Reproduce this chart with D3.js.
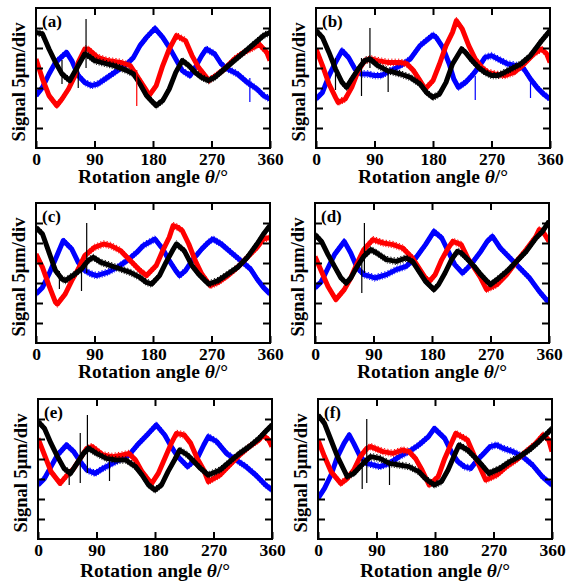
<!DOCTYPE html>
<html>
<head>
<meta charset="utf-8">
<script src="https://cdn.jsdelivr.net/npm/d3@7"></script>
<style>
html,body{margin:0;padding:0;background:#fff;}
svg{display:block;}
svg text{font-family:"Liberation Serif","Times New Roman",serif !important;font-weight:bold;fill:#000;}
</style>
</head>
<body>
<svg id="chart" width="573" height="582"></svg>
<script>
// ---- data (signal in divisions of 5 µm) ----
const panelLabels = ["(a)", "(b)", "(c)", "(d)", "(e)", "(f)"];
const xTickLabels = [0, 90, 180, 270, 360];
const yTickValues = [1, 2, 3, 4, 5, 6];
const seriesColors = {red: "#ff0000", blue: "#0000ff", black: "#000000"};

const redA = [[0,4.45],[10,3.45],[20,2.62],[32,2.12],[40,2.45],[50,2.95],[60,3.62],[65,4.28],[75,4.95],[80,4.95],[95,4.53],[110,4.37],[130,4.28],[145,4.12],[150,3.87],[160,3.37],[170,2.87],[174,2.62],[185,3.12],[195,4.12],[205,4.95],[216,5.62],[230,5.37],[240,4.62],[250,4.03],[260,3.62],[266,3.37],[280,3.70],[290,3.95],[305,4.45],[320,4.78],[335,5.03],[343,5.20],[355,4.78],[360,4.37]];
const blueA = [[0,2.62],[10,3.03],[20,3.70],[30,4.28],[47,4.78],[55,4.37],[65,3.62],[75,3.28],[85,3.12],[95,3.20],[110,3.53],[125,3.87],[140,4.20],[150,4.53],[160,5.12],[170,5.53],[183,5.98],[195,5.53],[205,5.03],[215,4.45],[225,3.87],[237,3.62],[245,4.03],[255,4.62],[262,4.95],[275,4.70],[285,4.20],[295,3.95],[310,3.70],[325,3.28],[340,2.95],[350,2.62],[360,2.45]];
const blackA = [[0,5.78],[10,5.70],[20,4.95],[30,4.28],[40,3.70],[52,3.37],[65,4.12],[75,4.70],[80,4.62],[90,4.37],[100,4.28],[120,4.12],[140,3.87],[150,3.70],[160,3.20],[170,2.62],[180,2.28],[185,2.12],[195,2.37],[205,2.95],[215,3.78],[225,4.37],[235,4.12],[245,3.78],[255,3.53],[265,3.37],[275,3.53],[290,3.95],[305,4.37],[320,4.78],[335,5.20],[350,5.62],[360,5.78]];

const redB = [[0,4.95],[10,4.12],[20,3.20],[30,2.53],[34,2.28],[45,2.45],[55,3.03],[65,3.87],[75,4.37],[85,4.45],[95,4.37],[110,4.28],[130,4.28],[140,4.20],[150,3.87],[160,3.37],[168,2.95],[180,3.37],[190,4.20],[200,5.12],[210,5.78],[216,6.37],[225,5.95],[235,5.12],[245,4.45],[255,4.03],[265,3.78],[275,3.70],[290,3.62],[305,3.78],[320,4.20],[335,4.70],[347,4.95],[355,4.70],[360,4.28]];
const blueB = [[0,2.45],[10,2.78],[20,3.62],[30,4.28],[40,4.87],[50,4.53],[60,3.95],[70,3.70],[80,3.70],[90,3.62],[100,3.62],[115,3.87],[130,4.12],[145,4.45],[160,5.12],[180,5.65],[185,5.53],[195,5.03],[205,4.20],[212,3.45],[219,3.03],[230,3.28],[240,3.62],[250,4.03],[260,4.53],[270,4.62],[280,4.45],[295,4.20],[310,4.12],[320,3.95],[330,3.45],[340,3.03],[350,2.70],[360,2.45]];
const blackB = [[0,5.87],[10,5.53],[20,4.78],[30,3.95],[40,3.28],[47,3.03],[55,3.45],[65,3.95],[75,4.37],[83,4.45],[95,4.12],[110,3.87],[130,3.70],[145,3.53],[160,3.20],[170,2.78],[180,2.53],[190,2.70],[200,3.28],[210,4.20],[224,4.95],[230,4.78],[240,4.37],[250,4.03],[260,3.78],[270,3.62],[280,3.62],[290,3.78],[300,3.95],[315,4.20],[330,4.62],[345,5.28],[360,5.87]];

const redC = [[0,4.45],[10,3.78],[20,2.87],[30,2.03],[33,1.95],[45,2.45],[55,3.12],[65,3.70],[75,4.37],[90,4.78],[104,4.95],[115,4.87],[130,4.62],[145,4.12],[160,3.62],[170,3.37],[185,3.87],[195,4.62],[205,5.28],[211,5.87],[218,5.78],[225,5.62],[235,4.95],[245,4.12],[255,3.45],[268,2.87],[280,3.03],[295,3.37],[310,3.78],[325,4.28],[340,4.78],[350,5.20],[360,5.28]];
const blueC = [[0,2.45],[10,2.78],[20,3.45],[30,4.20],[42,5.12],[55,4.70],[65,4.03],[75,3.62],[85,3.45],[93,3.37],[110,3.53],[125,3.78],[140,4.12],[155,4.53],[165,4.87],[183,5.20],[195,4.70],[205,4.12],[215,3.62],[221,3.37],[230,3.62],[240,4.12],[255,4.70],[265,5.03],[272,5.20],[285,4.95],[300,4.53],[315,4.12],[330,3.70],[340,3.20],[350,2.78],[360,2.45]];
const blackC = [[0,5.78],[10,5.45],[20,4.53],[30,3.62],[40,3.20],[45,3.12],[60,3.45],[70,3.70],[80,4.12],[88,4.28],[100,4.03],[115,3.87],[130,3.70],[145,3.53],[160,3.28],[170,3.03],[178,2.95],[190,3.37],[200,4.03],[210,4.62],[216,4.95],[228,4.62],[240,3.87],[250,3.45],[260,3.12],[266,2.95],[280,3.12],[295,3.45],[310,3.78],[325,4.28],[340,4.95],[350,5.45],[360,5.87]];

const redD = [[0,4.33],[10,3.58],[20,2.83],[32,2.17],[45,2.67],[55,3.25],[65,4.00],[75,4.67],[89,5.17],[105,5.00],[120,4.92],[135,4.75],[150,4.25],[160,3.75],[170,3.25],[176,3.08],[185,3.42],[195,4.17],[205,4.75],[212,5.08],[225,4.92],[235,4.25],[245,3.75],[255,3.25],[264,2.67],[280,2.92],[295,3.42],[310,4.08],[325,4.67],[340,5.33],[345,5.67],[352,5.50],[360,5.08]];
const blueD = [[0,2.75],[10,3.08],[20,3.75],[30,4.42],[45,5.08],[55,4.50],[65,3.75],[75,3.42],[85,3.33],[92,3.25],[110,3.42],[125,3.67],[140,3.83],[155,4.25],[170,4.92],[183,5.58],[195,5.25],[205,4.58],[215,3.92],[227,3.50],[240,3.92],[255,4.58],[265,5.08],[273,5.33],[285,4.75],[300,4.25],[315,3.75],[330,3.25],[345,2.58],[360,2.00]];
const blackD = [[0,5.42],[10,5.08],[20,4.42],[30,3.83],[40,3.25],[48,3.00],[55,3.25],[65,3.83],[75,4.33],[86,4.67],[95,4.50],[110,4.17],[125,4.08],[140,4.25],[150,4.08],[160,3.58],[170,3.08],[183,2.67],[190,2.92],[200,3.50],[210,4.17],[219,4.58],[225,4.50],[235,4.17],[245,3.83],[255,3.42],[265,3.08],[270,2.92],[280,3.17],[295,3.58],[310,4.08],[325,4.58],[340,5.25],[350,5.58],[360,6.08]];

const redE = [[0,5.03],[10,4.20],[20,3.37],[34,2.78],[45,3.20],[55,3.53],[65,4.03],[75,4.53],[83,4.62],[100,4.20],[115,4.12],[130,4.20],[140,4.28],[150,3.95],[160,3.37],[170,2.95],[175,2.78],[185,3.28],[195,4.03],[205,4.78],[213,5.28],[225,5.20],[235,4.78],[245,4.03],[255,3.45],[262,2.87],[280,3.20],[295,3.70],[310,4.20],[325,4.62],[340,4.95],[346,5.20],[355,4.95],[360,4.62]];
const blueE = [[0,2.70],[10,3.03],[20,3.62],[30,4.20],[44,4.70],[55,4.37],[65,3.87],[75,3.45],[88,3.28],[100,3.53],[115,3.78],[130,4.03],[140,4.20],[155,4.78],[170,5.28],[182,5.70],[195,5.20],[205,4.62],[215,4.12],[230,3.62],[245,4.03],[255,4.70],[262,5.12],[275,4.87],[290,4.28],[305,3.95],[320,3.62],[335,3.20],[350,2.70],[360,2.45]];
const blackE = [[0,5.87],[10,5.53],[20,4.78],[30,4.12],[40,3.53],[50,3.28],[60,3.78],[70,4.28],[78,4.53],[90,4.28],[105,4.03],[120,3.95],[135,3.95],[150,3.62],[160,3.20],[170,2.70],[180,2.45],[190,2.70],[200,3.37],[210,3.95],[218,4.45],[230,4.20],[240,3.87],[250,3.53],[262,3.20],[280,3.45],[295,3.87],[310,4.28],[325,4.62],[340,5.03],[350,5.37],[360,5.70]];

const redF = [[0,4.95],[10,4.12],[20,3.37],[35,2.78],[45,3.03],[55,3.45],[65,4.12],[75,4.53],[81,4.62],[100,4.37],[115,4.28],[130,4.45],[140,4.37],[150,4.03],[160,3.45],[171,2.70],[185,3.12],[195,4.03],[205,4.78],[212,5.28],[230,4.95],[240,4.20],[250,3.53],[258,2.95],[275,3.20],[290,3.62],[305,3.95],[320,4.37],[335,4.78],[346,5.20],[355,4.95],[360,4.37]];
const blueF = [[0,2.03],[10,2.53],[20,3.20],[30,4.12],[40,4.78],[48,5.20],[55,4.78],[65,4.12],[75,3.78],[85,3.70],[95,3.62],[110,3.78],[125,4.12],[140,4.37],[155,4.70],[170,5.12],[179,5.53],[195,5.03],[205,4.37],[215,3.87],[225,3.62],[235,3.53],[245,3.95],[255,4.28],[265,4.62],[275,4.70],[285,4.53],[300,4.37],[315,4.12],[330,3.70],[345,3.12],[360,2.70]];
const blackF = [[0,6.20],[10,5.78],[20,4.95],[30,4.12],[40,3.45],[45,3.12],[55,3.28],[65,3.62],[75,3.95],[81,4.12],[95,4.03],[110,3.78],[125,3.70],[140,3.62],[155,3.37],[165,3.03],[179,2.70],[190,2.87],[200,3.45],[210,4.20],[217,4.70],[230,4.45],[240,4.12],[250,3.78],[263,3.28],[280,3.53],[295,3.87],[310,4.12],[325,4.45],[340,4.87],[350,5.20],[360,5.53]];

// spikes: [angle, from, to, color]
const spikesA = [[77,6.45,4.0,"black"],[65,4.2,3.0,"black"],[40,4.4,3.2,"black"],[155,3.9,2.1,"red"],[329,3.5,2.3,"blue"]];
const spikesB = [[83,6.0,4.0,"black"],[70,4.5,2.6,"black"],[30,4.5,2.9,"black"],[111,3.9,2.8,"black"],[245,3.6,2.4,"blue"],[330,3.6,2.5,"blue"]];
const spikesC = [[78,6.0,3.5,"black"],[70,3.7,2.6,"black"],[36,3.6,2.7,"black"]];
const spikesD = [[76,6.0,3.5,"black"],[72,4.0,2.5,"black"]];
const spikesE = [[76,6.2,3.3,"black"],[65,5.3,2.8,"black"],[48,3.5,2.7,"black"],[110,3.9,2.9,"black"]];
const spikesF = [[75,6.0,2.8,"black"],[68,4.0,2.5,"black"],[110,3.8,2.7,"black"]];

// ---- layout ----
const panelBoxes = [
  {x:36, y:8}, {x:316, y:8},
  {x:36, y:203}, {x:315, y:203},
  {x:38, y:399}, {x:318, y:399}
];
const PW = 234, PH = 140;
const panels = [
  {red:redA, blue:blueA, black:blackA, spikes:spikesA},
  {red:redB, blue:blueB, black:blackB, spikes:spikesB},
  {red:redC, blue:blueC, black:blackC, spikes:spikesC},
  {red:redD, blue:blueD, black:blackD, spikes:spikesD},
  {red:redE, blue:blueE, black:blackE, spikes:spikesE},
  {red:redF, blue:blueF, black:blackF, spikes:spikesF}
];

const FONT = '"Liberation Serif","Times New Roman",serif';
const svg = d3.select("#chart");
const x = d3.scaleLinear().domain([0, 360]).range([0, PW]);
const y = d3.scaleLinear().domain([0, 7]).range([PH, 0]);

panels.forEach((p, i) => {
  const box = panelBoxes[i];
  const bottomRow = i >= 4;
  const g = svg.append("g").attr("transform", `translate(${box.x},${box.y})`);

  g.append("clipPath").attr("id", "clip" + i)
    .append("rect").attr("width", PW).attr("height", PH);

  const plot = g.append("g").attr("clip-path", `url(#clip${i})`);
  const line = d3.line().x(d => x(d[0])).y(d => y(d[1])).curve(d3.curveLinear);

  ["blue", "red", "black"].forEach(k => {
    plot.append("path").datum(p[k])
      .attr("d", line)
      .attr("fill", "none")
      .attr("stroke", seriesColors[k])
      .attr("stroke-width", 5)
      .attr("stroke-linejoin", "round");
    [-3.2, 3.2].forEach((off, j) => {
      plot.append("path").datum(p[k])
        .attr("d", line)
        .attr("fill", "none")
        .attr("stroke", seriesColors[k])
        .attr("stroke-width", 1)
        .attr("stroke-dasharray", j ? "1,1.7" : "1.3,2.1")
        .attr("transform", `translate(0,${off})`);
    });
  });
  plot.selectAll("line.spike").data(p.spikes).enter().append("line")
    .attr("x1", d => x(d[0])).attr("x2", d => x(d[0]))
    .attr("y1", d => y(d[1])).attr("y2", d => y(d[2]))
    .attr("stroke", d => seriesColors[d[3]]).attr("stroke-width", 1.2);

  // axes
  const tickLen = -7;
  const axB = d3.axisBottom(x).tickValues(xTickLabels).tickSize(tickLen).tickFormat(d3.format("d"));
  const gb = g.append("g").attr("transform", `translate(0,${PH})`).call(axB);
  gb.attr("font-family", FONT);
  gb.select(".domain").remove();
  gb.selectAll(".tick line").attr("stroke-width", 2);
  gb.selectAll(".tick text").attr("y", 17).attr("dy", 0)
    .style("font-size", "17.5px").style("font-family", FONT).style("font-weight", "bold");

  const axT = d3.axisTop(x).tickValues([90, 180, 270]).tickSize(tickLen).tickFormat("");
  const gt = g.append("g").call(axT);
  gt.select(".domain").remove();
  gt.selectAll(".tick line").attr("stroke-width", 2);

  const axL = d3.axisLeft(y).tickValues(yTickValues).tickSize(tickLen).tickFormat("");
  const gl = g.append("g").call(axL);
  gl.select(".domain").remove();
  gl.selectAll(".tick line").attr("stroke-width", 2);

  const axR = d3.axisRight(y).tickValues(yTickValues).tickSize(tickLen).tickFormat("");
  const gr = g.append("g").attr("transform", `translate(${PW},0)`).call(axR);
  gr.select(".domain").remove();
  gr.selectAll(".tick line").attr("stroke-width", 2);

  g.append("rect").attr("width", PW).attr("height", PH)
    .attr("fill", "none").attr("stroke", "#000").attr("stroke-width", 2);

  // panel label
  g.append("text").attr("x", 6).attr("y", 19)
    .style("font-family", FONT).style("font-size", "17px").text(panelLabels[i]);

  // x title
  const xt = g.append("text").attr("x", PW / 2).attr("y", PH + (bottomRow ? 38 : 35))
    .attr("text-anchor", "middle").style("font-family", FONT).style("font-size", "19.5px");
  xt.append("tspan").text("Rotation angle ");
  xt.append("tspan").style("font-style", "italic").text("θ");
  xt.append("tspan").text("/°");

  // y title
  g.append("text")
    .attr("transform", `translate(-11,${PH / 2 + 4}) rotate(-90)`)
    .attr("text-anchor", "middle").style("font-family", FONT).style("font-size", "18.5px")
    .text("Signal 5μm/div");
});
</script>
</body>
</html>
